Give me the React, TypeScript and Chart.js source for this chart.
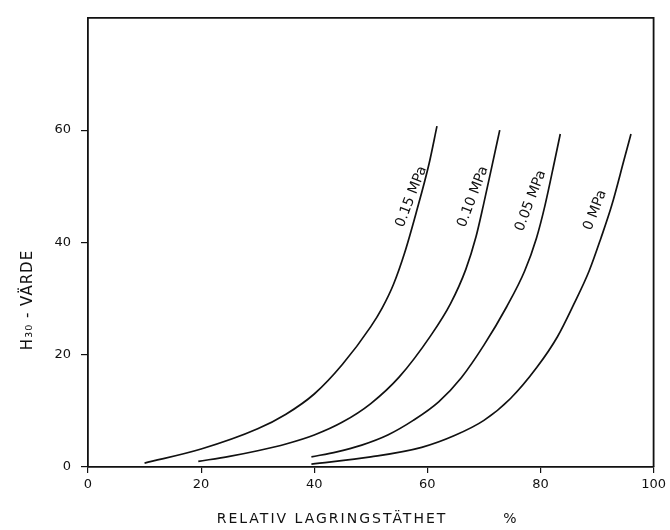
import React, { useEffect, useRef } from "react";
import { Chart, registerables } from "chart.js";

Chart.register(...registerables);

const xTicks = [0, 20, 40, 60, 80, 100];
const yTicks = [0, 20, 40, 60];

const curveNames = ["0.15 MPa", "0.10 MPa", "0.05 MPa", "0 MPa"];

const x015 = [10, 20, 30, 35, 40, 45, 50, 52, 54, 56, 58, 60.3, 61.7];
const y015 = [0.7, 3.2, 6.8, 9.4, 13, 18.3, 25, 28.3, 32.5, 38.2, 45.2, 54, 60.7];

const x010 = [19.5, 25, 30, 35, 40, 45, 50, 55, 60.6, 64.1, 66.8, 68.6, 69.9, 71.4, 72.8];
const y010 = [1, 1.9, 2.9, 4.1, 5.7, 8.0, 11.3, 16.0, 23.4, 29.1, 35.2, 41, 46.6, 53.5, 60];

const x005 = [39.5, 44, 48.4, 53, 57.5, 62, 66, 70, 74, 77.2, 79.3, 80.8, 82.5, 83.5];
const y005 = [1.8, 2.7, 3.9, 5.7, 8.3, 11.6, 15.9, 21.7, 28.5, 34.9, 40.8, 46.6, 54.5, 59.3];

const x000 = [39.5, 50, 59, 64.8, 70, 74.7, 79.4, 83, 85.9, 88.6, 90.7, 92.6, 94.8, 96];
const y000 = [0.5, 1.8, 3.5, 5.6, 8.3, 12.2, 17.8, 23.2, 29, 34.9, 40.8, 46.6, 54.8, 59.3];

// curve-label anchor (centre of each label, data coords)
const labelX = [58.0, 68.9, 79.1, 90.5];
const labelY = [47.8, 47.8, 47.1, 45.4];

const xTitleMain = "RELATIV LAGRINGSTÄTHET";
const xTitleUnit = "%";
const yTitle = "H₃₀ - VÄRDE";

const pts = (xs: number[], ys: number[]) => xs.map((x, i) => ({ x, y: ys[i] }));

export default function App() {
  const ref = useRef<HTMLCanvasElement | null>(null);
  useEffect(() => {
    const canvas = ref.current!;
    const font = "'DejaVu Sans', sans-serif";
    const decor = {
      id: "decor",
      afterDraw(chart: any) {
        const { ctx, chartArea: a, scales } = chart;
        ctx.save();
        ctx.strokeStyle = "#111";
        ctx.lineWidth = 1.8;
        ctx.beginPath();
        ctx.moveTo(a.left, a.top);
        ctx.lineTo(a.right, a.top);
        ctx.lineTo(a.right, a.bottom);
        ctx.stroke();
        ctx.fillStyle = "#111";
        ctx.font = `14px ${font}`;
        ctx.textAlign = "center";
        ctx.textBaseline = "middle";
        const ang = (-69 * Math.PI) / 180;
        curveNames.forEach((n, i) => {
          const px = scales.x.getPixelForValue(labelX[i]);
          const py = scales.y.getPixelForValue(labelY[i]);
          ctx.save();
          ctx.translate(px, py);
          ctx.rotate(ang);
          ctx.fillText(n, 0, -5);
          ctx.restore();
        });
        ctx.font = `14px ${font}`;
        (ctx as any).letterSpacing = "2px";
        ctx.fillText(xTitleMain, 332, 519);
        (ctx as any).letterSpacing = "0px";
        ctx.fillText(xTitleUnit, 510, 519);
        ctx.font = `15px ${font}`;
        ctx.save();
        ctx.translate(28, 300);
        ctx.rotate(-Math.PI / 2);
        (ctx as any).letterSpacing = "1px";
        ctx.fillText(yTitle, 0, 0);
        ctx.restore();
        ctx.restore();
      },
    };
    const ds = [
      pts(x015, y015),
      pts(x010, y010),
      pts(x005, y005),
      pts(x000, y000),
    ].map((data, i) => ({
      label: curveNames[i],
      data,
      borderColor: "#111",
      borderWidth: 1.7,
      pointRadius: 0,
      fill: false,
      cubicInterpolationMode: "monotone" as const,
    }));
    const chart = new Chart(canvas, {
      type: "line",
      data: { datasets: ds },
      plugins: [decor],
      options: {
        animation: false,
        responsive: false,
        layout: { padding: { left: 0, top: 10, right: 13, bottom: 0 } },
        plugins: { legend: { display: false }, tooltip: { enabled: false } },
        scales: {
          x: {
            type: "linear",
            min: 0,
            max: 100,
            afterBuildTicks: (s: any) => {
              s.ticks = xTicks.map((v) => ({ value: v }));
            },
            afterFit: (s: any) => {
              s.height = 63;
            },
            ticks: { color: "#111", font: { size: 13, family: font }, padding: 4, maxRotation: 0 },
            grid: { display: true, drawOnChartArea: false, drawTicks: true, tickLength: 6, color: "#111", lineWidth: 1.2 },
            border: { display: true, color: "#111", width: 1.8 },
          },
          y: {
            type: "linear",
            min: 0,
            max: 80,
            afterBuildTicks: (s: any) => {
              s.ticks = yTicks.map((v) => ({ value: v }));
            },
            afterFit: (s: any) => {
              s.width = 88;
            },
            ticks: { color: "#111", font: { size: 13, family: font }, padding: 10 },
            grid: { display: true, drawOnChartArea: false, drawTicks: true, tickLength: 7, color: "#111", lineWidth: 1.2 },
            border: { display: true, color: "#111", width: 1.8 },
          },
        },
      },
    });
    return () => chart.destroy();
  }, []);
  return (
    <div style={{ position: "fixed", left: 0, top: 0, width: 670, height: 530, background: "#fff" }}>
      <canvas ref={ref} width={670} height={530} />
    </div>
  );
}
